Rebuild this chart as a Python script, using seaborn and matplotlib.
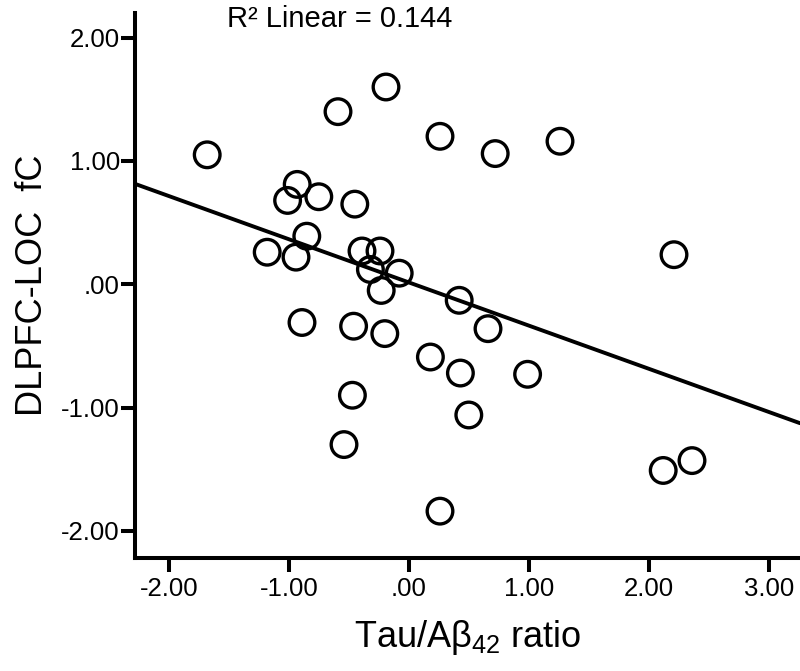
import numpy as np
import pandas as pd
import seaborn as sns
import matplotlib.pyplot as plt
from matplotlib.ticker import FuncFormatter

# Values
tau_ab42 = [-1.68, -0.59, -0.19, 0.26, -0.93, -1.01, -0.75, -0.45, -0.85, -1.18,
            -0.94, -0.39, -0.24, -0.32, -0.08, -0.23, 0.72, 1.26, 0.42, -0.89,
            -0.46, -0.20, 0.66, 0.18, 0.43, 0.99, -0.47, 0.50, -0.54, 0.26,
            2.21, 2.12, 2.36]
dlpfc_loc_fc = [1.05, 1.40, 1.60, 1.20, 0.81, 0.68, 0.71, 0.65, 0.39, 0.26,
                0.22, 0.27, 0.27, 0.12, 0.09, -0.05, 1.06, 1.16, -0.13, -0.31,
                -0.34, -0.40, -0.36, -0.59, -0.72, -0.73, -0.90, -1.06, -1.30, -1.84,
                0.24, -1.51, -1.43]
x_ticks = [-2, -1, 0, 1, 2, 3]
y_ticks = [-2, -1, 0, 1, 2]

df = pd.DataFrame({'x': tau_ab42, 'y': dlpfc_loc_fc})

sns.set_style('ticks', rc={'text.color': 'black', 'axes.labelcolor': 'black',
                           'xtick.color': 'black', 'ytick.color': 'black',
                           'axes.edgecolor': 'black'})
plt.rcParams['font.family'] = ['Liberation Sans', 'DejaVu Sans']
plt.rcParams['mathtext.fontset'] = 'custom'
plt.rcParams['mathtext.rm'] = 'Liberation Sans'
plt.rcParams['mathtext.it'] = 'Liberation Sans'

fig = plt.figure(figsize=(8, 6.71), dpi=100)
ax = fig.add_axes([0.169, 0.1684, 0.831, 0.8122])
ax.set_xlim(-2.28, 3.26)
ax.set_ylim(-2.22, 2.20)

sns.regplot(data=df, x='x', y='y', ax=ax, ci=None, truncate=False, color='black',
            scatter_kws={'s': 340, 'facecolors': 'none', 'edgecolors': 'black',
                         'linewidths': 2.4, 'alpha': 1, 'zorder': 3},
            line_kws={'color': 'black', 'linewidth': 2.8})

ax.set_xlim(-2.28, 3.26)
ax.set_ylim(-2.22, 2.20)
ax.set_xticks(x_ticks)
ax.set_yticks(y_ticks)
fmt = FuncFormatter(lambda v, p: '.00' if abs(v) < 1e-9 else f'{v:.2f}')
ax.xaxis.set_major_formatter(fmt)
ax.yaxis.set_major_formatter(fmt)
ax.tick_params(width=2.9, length=10, labelsize=18.5, color='black',
               labelcolor='black', direction='out')
ax.tick_params(axis='y', pad=1)
ax.tick_params(axis='x', pad=4)

sns.despine(ax=ax)
for s in ['left', 'bottom']:
    ax.spines[s].set_linewidth(2.9)
    ax.spines[s].set_color('black')
    ax.spines[s].set_capstyle('projecting')

ax.set_xlabel('Tau/Aβ$_{42}$ ratio', fontsize=26, labelpad=12, color='black')
ax.set_ylabel('DLPFC-LOC  fC', fontsize=26, labelpad=8, color='black')

fig.text(0.425, 0.972, 'R² Linear = 0.144', fontsize=21, ha='center', va='center',
         color='black')

fig.savefig('out.png', dpi=100)
